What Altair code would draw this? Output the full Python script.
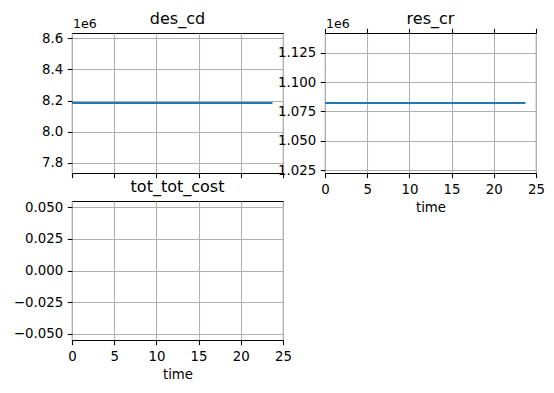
import altair as alt
import pandas as pd

# ---- data ----
time = [0.0, 23.75]
des_cd = [8184500.0, 8184500.0]
res_cr = [1082200.0, 1082200.0]
tot_tot_cost = [None, None]

x_ticks = [0, 5, 10, 15, 20, 25]
x_domain = [0, 25]
des_ticks = [7.8e6, 8.0e6, 8.2e6, 8.4e6, 8.6e6]
des_domain = [7.73436e6, 8.63465e6]
res_ticks = [1.025e6, 1.050e6, 1.075e6, 1.100e6, 1.125e6]
res_domain = [1.02268e6, 1.14172e6]
tot_ticks = [-0.050, -0.025, 0.0, 0.025, 0.050]
tot_domain = [-0.055, 0.055]

FONT = "DejaVu Sans"
BLUE = "#1f77b4"
LABEL_SIZE = 13.33
TITLE_SIZE = 16
TICK = 4.67
LW = 1.07


def panel(field, values, yticks, ydomain, label_expr, title,
          show_xlabels, top_ticks, offset_text, width, height):
    df = pd.DataFrame({"time": time, field: values})
    xscale = alt.Scale(domain=x_domain, nice=False, zero=False)
    if show_xlabels:
        xaxis = alt.Axis(values=x_ticks, title="time", labelFlush=False,
                         labelOverlap=False, format="d")
    else:
        xaxis = alt.Axis(values=x_ticks, title=None, labels=False)
    yaxis = alt.Axis(values=yticks, title=None, labelExpr=label_expr,
                     labelOverlap=False, labelFlush=False)
    line = alt.Chart(df).mark_line(color=BLUE, strokeWidth=2).encode(
        x=alt.X("time:Q", scale=xscale, axis=xaxis),
        y=alt.Y(f"{field}:Q", scale=alt.Scale(domain=ydomain, nice=False, zero=False),
                axis=yaxis),
    )
    layers = [line]
    if top_ticks:
        top = alt.Chart(df).mark_line(opacity=0).encode(
            x=alt.X("time:Q", scale=xscale,
                    axis=alt.Axis(values=x_ticks, orient="top", labels=False,
                                  grid=False, title=None)),
        )
        layers.append(top)
    if offset_text:
        txt = alt.Chart(pd.DataFrame({"t": ["1e6"]})).mark_text(
            align="left", baseline="alphabetic", font=FONT, fontSize=12.5, color="black"
        ).encode(x=alt.value(1), y=alt.value(-5), text="t:N")
        layers.append(txt)
    ttl = alt.Chart(pd.DataFrame({"t": [title]})).mark_text(
        align="center", baseline="alphabetic", font=FONT, fontSize=TITLE_SIZE,
        color="black"
    ).encode(x=alt.value(width / 2), y=alt.value(-8.7), text="t:N")
    layers.append(ttl)
    ch = alt.layer(*layers)
    if top_ticks:
        ch = ch.resolve_axis(x="independent")
    return ch.properties(width=width, height=height)


p1 = panel("des_cd", des_cd, des_ticks, des_domain,
           "format(datum.value / 1e6, '.1f')", "des_cd",
           False, False, True, 211, 140)
p2 = panel("res_cr", res_cr, res_ticks, res_domain,
           "format(datum.value / 1e6, '.3f')", "res_cr",
           True, True, True, 211, 140)
p3 = panel("tot_tot_cost", tot_tot_cost, tot_ticks, tot_domain,
           "format(datum.value, '.3f')", "tot_tot_cost",
           True, False, False, 211, 139)

chart = alt.concat(
    p1, p2, p3, columns=2, spacing={"row": 28, "column": 42}, bounds="flush"
).properties(
    padding={"left": 12, "top": 10, "right": 5, "bottom": 5},
    background="white",
).configure_axis(
    labelFont=FONT, labelFontSize=LABEL_SIZE, labelColor="black",
    titleFont=FONT, titleFontSize=LABEL_SIZE, titleFontWeight="normal", titleColor="black",
    titlePadding=5,
    tickColor="black", tickSize=TICK, tickWidth=LW, labelPadding=TICK,
    domain=False, gridColor="#b0b0b0", gridWidth=LW, gridOpacity=1,
).configure_view(
    stroke="black", strokeWidth=LW
)

chart.save("out.html", embed_options={"renderer": "svg", "actions": False})
